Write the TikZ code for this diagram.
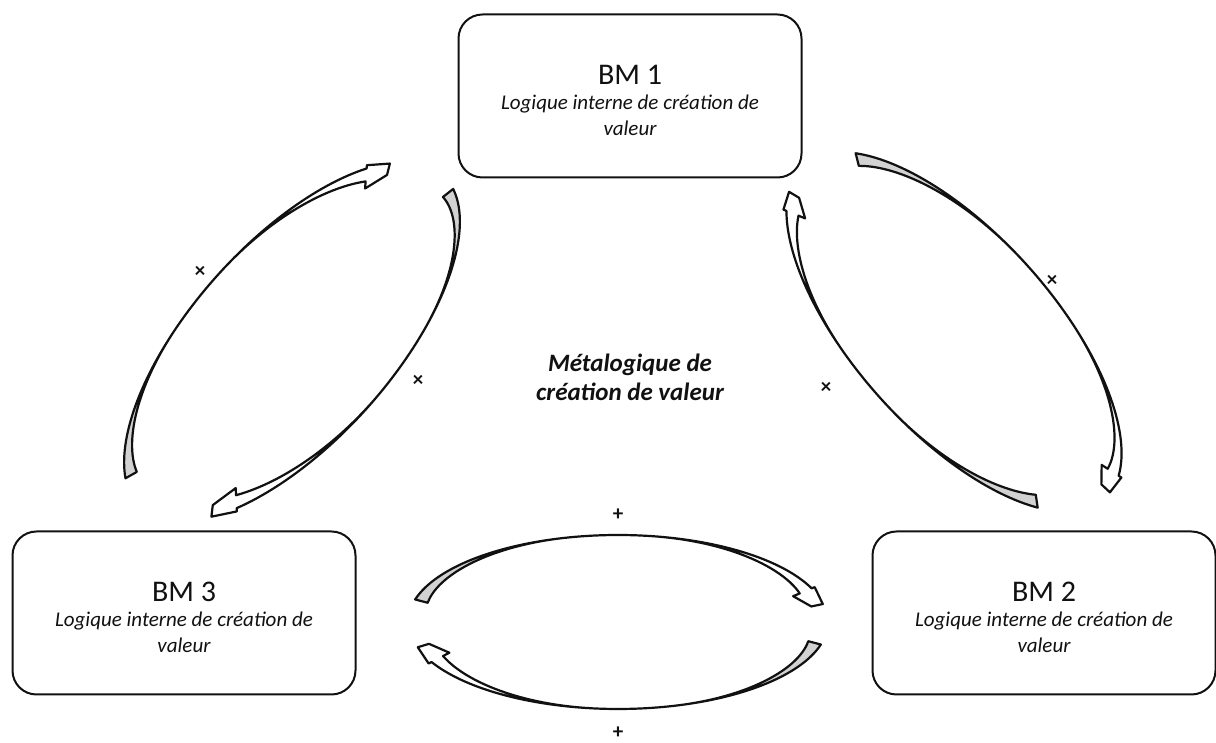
\documentclass[tikz,border=0pt]{standalone}
\usepackage{fontspec}
\setmainfont{Carlito}
\usetikzlibrary{positioning}
\definecolor{bmink}{HTML}{111111}
\definecolor{bmgrey}{HTML}{D2D2D2}
\tikzset{
  bm box/.style={draw=bmink, line width=2pt, rounded corners=24pt, fill=white,
    minimum width=343pt, minimum height=163pt},
  bm title/.style={font=\fontsize{30}{34}\selectfont, text=bmink, inner sep=0pt},
  bm sub/.style={font=\fontsize{21}{26}\selectfont\itshape, text=bmink, align=center, inner sep=0pt},
  bm meta/.style={font=\fontsize{25}{29}\selectfont\bfseries\itshape, text=bmink, align=center, inner sep=0pt},
  bm sign/.style={font=\fontsize{21}{24}\selectfont\bfseries, text=bmink, inner sep=0pt},
  loop line/.style={draw=bmink, line width=2.2pt, line join=round},
  loop tail/.style={fill=bmgrey},
  % #1 a, #2 b, #3 tail angle, #4 tip angle, #5 band width
  pics/loop arrow/.style n args={5}{code={
    \pgfmathsetmacro\tailang{#3}
    \pgfmathsetmacro\sweepang{(#4)-(#3)}
    \pgfmathsetmacro\headang{(#3)+0.93*(\sweepang)}
    \fill[loop tail] plot[domain=0:0.4, samples=30]
        ({#1*cos(\tailang+\x*(\sweepang))}, {#2*sin(\tailang+\x*(\sweepang))})
      -- plot[domain=0.4:0, samples=30]
        ({(#1-#5*(1-\x/0.4)^2)*cos(\tailang+\x*(\sweepang))},
         {(#2-#5*(1-\x/0.4)^2)*sin(\tailang+\x*(\sweepang))})
      -- cycle;
    \draw[loop line] plot[domain=0:0.93, samples=70]
        ({#1*cos(\tailang+\x*(\sweepang))}, {#2*sin(\tailang+\x*(\sweepang))})
      -- ({(#1+0.25*#5)*cos(\headang)}, {(#2+0.25*#5)*sin(\headang)})
      -- ({(#1-0.05*#5)*cos(#4)}, {(#2-0.05*#5)*sin(#4)})
      -- ({(#1-0.95*#5)*cos(#4)}, {(#2-0.95*#5)*sin(#4)})
      -- ({(#1-1.55*#5)*cos(\headang)}, {(#2-1.55*#5)*sin(\headang)})
      -- ({(#1-#5)*cos(\headang)}, {(#2-#5)*sin(\headang)})
      -- plot[domain=0.93:0, samples=70]
        ({(#1-#5*(max(0,1-\x/0.4))^2-#5*(max(0,(\x-0.55)/0.38))^2)*cos(\tailang+\x*(\sweepang))},
         {(#2-#5*(max(0,1-\x/0.4))^2-#5*(max(0,(\x-0.55)/0.38))^2)*sin(\tailang+\x*(\sweepang))})
      -- cycle;
  }}
}
\begin{document}
\begin{tikzpicture}[x=1pt, y=1pt]
  \useasboundingbox (0,0) rectangle (1216,743);
  % the three business models
  \node[bm box] (bm1) at (630,647) {};
  \node[bm title] (bm1t) at ([yshift=21pt]bm1.center) {BM 1};
  \node[bm sub] (bm1s) at ([yshift=-19pt]bm1.center) {Logique interne de création de\\valeur};
  \node[bm box] (bm3) at (184,130) {};
  \node[bm title] (bm3t) at ([yshift=21pt]bm3.center) {BM 3};
  \node[bm sub] (bm3s) at ([yshift=-19pt]bm3.center) {Logique interne de création de\\valeur};
  \node[bm box] (bm2) at (1044,130) {};
  \node[bm title] (bm2t) at ([yshift=21pt]bm2.center) {BM 2};
  \node[bm sub] (bm2s) at ([yshift=-19pt]bm2.center) {Logique interne de création de\\valeur};
  \node[bm meta] (meta) at (630,366) {Métalogique de\\création de valeur};
  % loops between the models
  \coordinate (loopL) at (292,401);
  \coordinate (loopR) at (954,411);
  \coordinate (loopB) at (618,121);
  \pic[rotate=48] at (loopL) {loop arrow={225}{100}{161}{28}{13}};
  \pic[rotate=48] at (loopL) {loop arrow={225}{100}{-10}{-145}{13}};
  \pic[rotate=-48] at (loopR) {loop arrow={225}{99}{152}{5}{13}};
  \pic[rotate=-48] at (loopR) {loop arrow={225}{99}{-34}{-163}{13}};
  \pic at (loopB) {loop arrow={210}{87}{165}{12}{13}};
  \pic at (loopB) {loop arrow={210}{87}{-15}{-163}{13}};
  \node[bm sign] (s1) at (200,471) {×};
  \node[bm sign] (s2) at (418,362) {×};
  \node[bm sign] (s3) at (1052,462) {×};
  \node[bm sign] (s4) at (826,355) {×};
  \node[bm sign] (s5) at (618,228) {+};
  \node[bm sign] (s6) at (618,10) {+};
\end{tikzpicture}
\end{document}
